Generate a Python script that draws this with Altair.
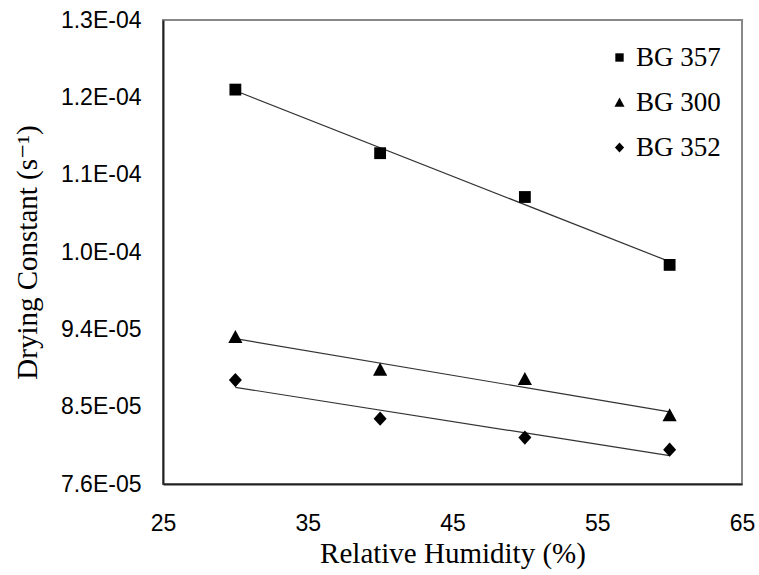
import altair as alt
import pandas as pd

rh = [30, 40, 50, 60]
series_names = ["BG 357", "BG 300", "BG 352"]
bg357 = [1.219e-4, 1.145e-4, 1.094e-4, 1.015e-4]
bg300 = [9.31e-5, 8.93e-5, 8.82e-5, 8.40e-5]
bg352 = [8.81e-5, 8.36e-5, 8.14e-5, 8.00e-5]
x_ticks = [25, 35, 45, 55, 65]
y_ticks = [7.6e-5, 8.5e-5, 9.4e-5, 1.03e-4, 1.12e-4, 1.21e-4, 1.30e-4]
shapes = [
    "M-1,-1H1V1H-1Z",
    "M0,-1.2L1.2,1H-1.2Z",
    "M0,-1.2L1.1,0L0,1.2L-1.1,0Z",
]

SERIF = "Liberation Serif, Times New Roman, Times, DejaVu Serif, serif"
SANS = "Liberation Sans, Arial, sans-serif"

rows = []
for name, vals in zip(series_names, [bg357, bg300, bg352]):
    for x, v in zip(rh, vals):
        rows.append({"RH": x, "K": v, "Series": name})
df = pd.DataFrame(rows)

xenc = alt.X("RH:Q", scale=alt.Scale(domain=[25, 65], nice=False, zero=False),
             axis=alt.Axis(values=x_ticks, title="Relative Humidity (%)", grid=False,
                           ticks=False, labelPadding=28, titlePadding=4,
                           labelFont=SANS, labelFontSize=23,
                           titleFont=SERIF, titleFontSize=29,
                           titleFontWeight="normal", labelColor="black", titleColor="black",
                           domainColor="#222222", domainWidth=2, labelFlush=False))
yenc = alt.Y("K:Q", scale=alt.Scale(domain=[7.6e-5, 1.3e-4], nice=False, zero=False),
             axis=alt.Axis(values=y_ticks, title="Drying Constant (s\u207b\u00b9)", grid=False,
                           ticks=False, labelPadding=22, titlePadding=18,
                           labelExpr="replace(replace(format(datum.value, '.1e'), 'e-5', 'E-05'), 'e-4', 'E-04')",
                           labelFont=SANS, labelFontSize=23,
                           titleFont=SERIF, titleFontSize=29,
                           titleFontWeight="normal", labelColor="black", titleColor="black",
                           domainColor="#222222", domainWidth=2, labelFlush=False))

base = alt.Chart(df)

points = base.mark_point(filled=True, color="black", opacity=1, size=140).encode(
    x=xenc, y=yenc,
    shape=alt.Shape("Series:N", scale=alt.Scale(domain=series_names, range=shapes),
                    legend=alt.Legend(title=None, orient="none", legendX=443, legendY=24,
                                      labelFont=SERIF, labelFontSize=27,
                                      labelColor="black", symbolSize=70,
                                      symbolFillColor="black", symbolStrokeWidth=0,
                                      rowPadding=17, labelOffset=3, padding=0)),
)

lines = base.transform_regression("RH", "K", groupby=["Series"]).mark_line(
    color="#333333", strokeWidth=1.2).encode(
    x=alt.X("RH:Q"), y=alt.Y("K:Q"), detail="Series:N")

chart = alt.layer(lines, points).properties(
    width=579, height=464,
    autosize=alt.AutoSizeParams(type="none"),
    padding={"left": 163, "top": 20, "right": 17, "bottom": 91},
    background="white",
).configure_view(stroke="#888888", strokeWidth=2)

chart.save("out.html", embed_options={"renderer": "svg", "actions": False})
